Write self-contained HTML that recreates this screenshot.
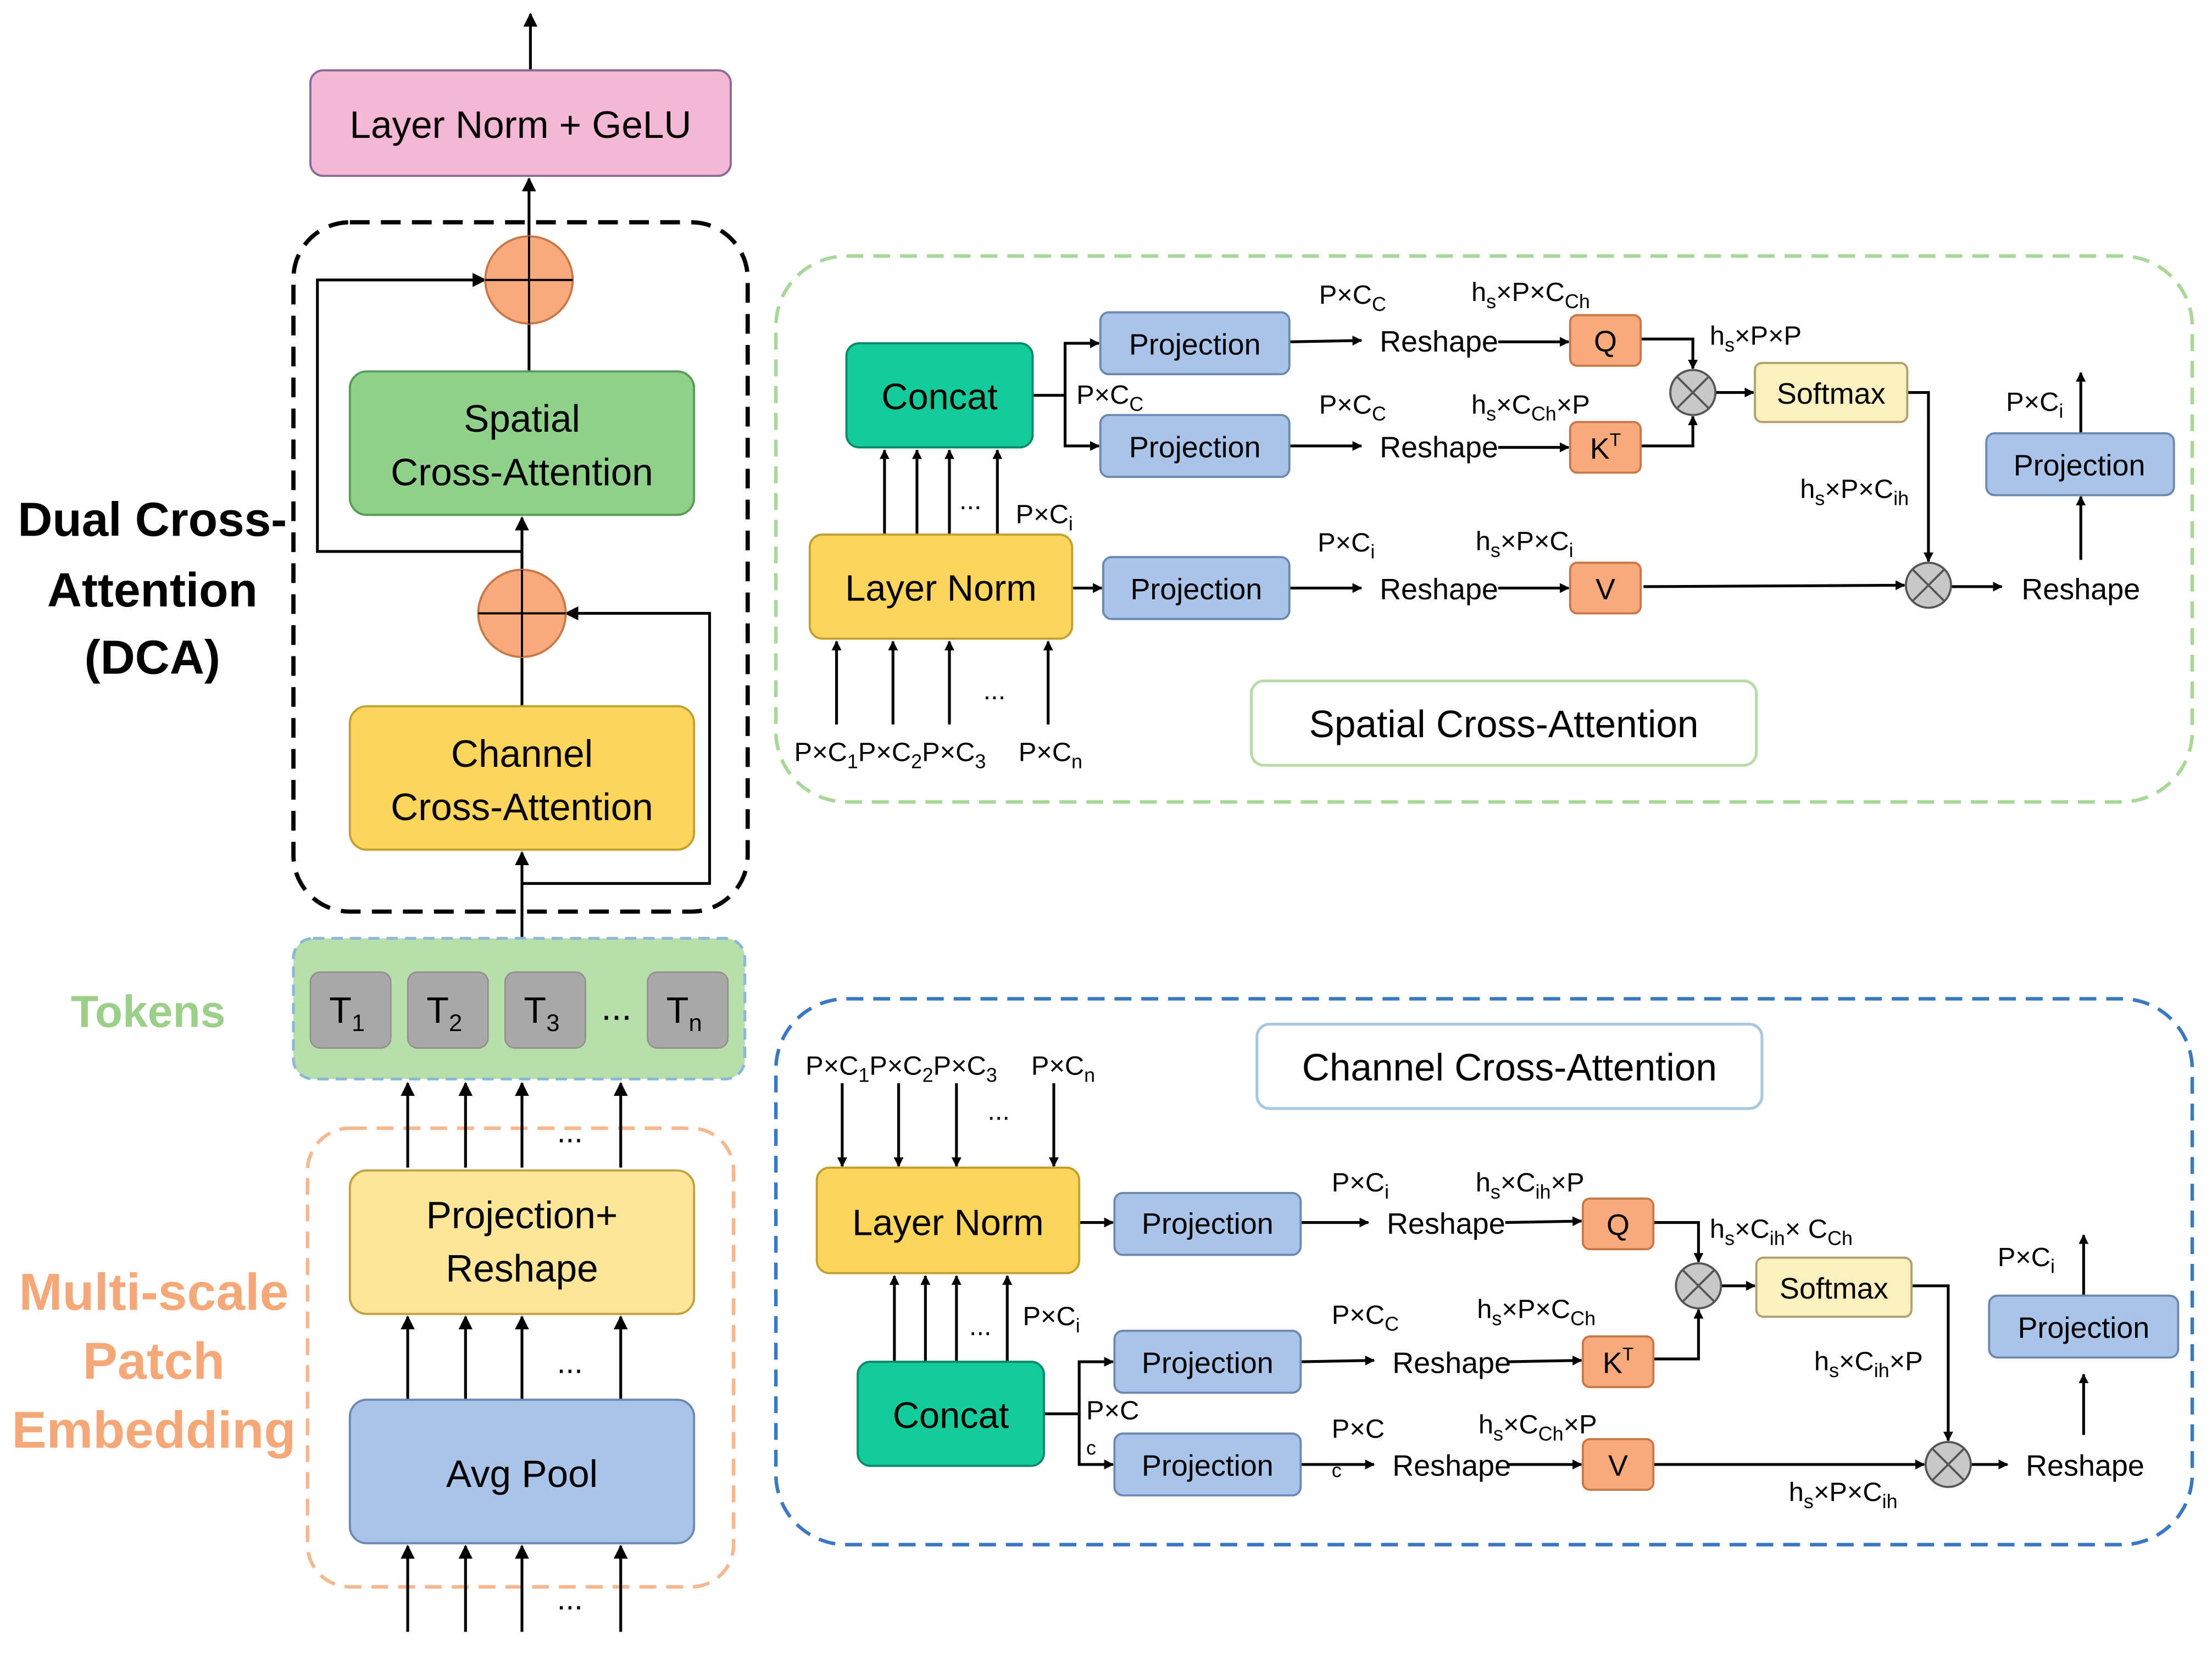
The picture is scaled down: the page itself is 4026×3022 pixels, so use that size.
<!DOCTYPE html>
<html><head><meta charset="utf-8"><style>
html,body{margin:0;padding:0;background:#fff;}
svg{display:block;}
text{font-family:"Liberation Sans","DejaVu Sans",sans-serif;}
</style></head><body>
<svg width="4026" height="3022" viewBox="0 0 1568 1180" preserveAspectRatio="none" xmlns="http://www.w3.org/2000/svg">
<defs>
<marker id="a" viewBox="0 0 10 10" refX="9" refY="5" markerWidth="7" markerHeight="7" orient="auto-start-reverse" markerUnits="userSpaceOnUse"><path d="M0,0 L10,5 L0,10 z" fill="#000"/></marker>
<marker id="b" viewBox="0 0 10 10" refX="9" refY="5" markerWidth="10" markerHeight="10" orient="auto" markerUnits="userSpaceOnUse"><path d="M0,0 L10,5 L0,10 z" fill="#000"/></marker>
</defs>
<g stroke="#000" stroke-width="2" fill="none">
<line x1="376" y1="50" x2="376" y2="10" marker-end="url(#b)"/>
<rect x="208" y="158" width="322" height="490" rx="40" stroke-width="3" stroke-dasharray="14,8"/>
<rect x="218" y="802" width="302" height="326" rx="30" stroke="#f5b890" stroke-width="2.5" stroke-dasharray="12,7"/>
<line x1="375" y1="168" x2="375" y2="127" marker-end="url(#b)"/>
<line x1="375" y1="264" x2="375" y2="230"/>
<polyline points="370,392 225,392 225,199 344,199" marker-end="url(#b)"/>
<line x1="370" y1="405" x2="370" y2="368" marker-end="url(#b)"/>
<line x1="370" y1="502" x2="370" y2="467"/>
<polyline points="370,628 503,628 503,436 401,436" marker-end="url(#b)"/>
<line x1="370" y1="668" x2="370" y2="606" marker-end="url(#b)"/>
<line x1="289" y1="830" x2="289" y2="770" marker-end="url(#b)"/>
<line x1="330" y1="830" x2="330" y2="770" marker-end="url(#b)"/>
<line x1="370" y1="830" x2="370" y2="770" marker-end="url(#b)"/>
<line x1="440" y1="830" x2="440" y2="770" marker-end="url(#b)"/>
<line x1="289" y1="995" x2="289" y2="936" marker-end="url(#b)"/>
<line x1="330" y1="995" x2="330" y2="936" marker-end="url(#b)"/>
<line x1="370" y1="995" x2="370" y2="936" marker-end="url(#b)"/>
<line x1="440" y1="995" x2="440" y2="936" marker-end="url(#b)"/>
<line x1="289" y1="1160" x2="289" y2="1099" marker-end="url(#b)"/>
<line x1="330" y1="1160" x2="330" y2="1099" marker-end="url(#b)"/>
<line x1="370" y1="1160" x2="370" y2="1099" marker-end="url(#b)"/>
<line x1="440" y1="1160" x2="440" y2="1099" marker-end="url(#b)"/>
</g>
<rect x="220" y="50" width="298" height="75" rx="9" fill="#f4b8d4" stroke="#8a6a9a" stroke-width="1.5"/>
<text x="369" y="98" font-size="27" text-anchor="middle">Layer Norm + GeLU</text>
<circle cx="375" cy="199" r="31" fill="#f7aa7a" stroke="#c87848" stroke-width="1.5"/>
<path d="M344,199 H406 M375,168 V230" stroke="#000" stroke-width="1.5"/>
<rect x="248" y="264" width="244" height="102" rx="12" fill="#8fd18a" stroke="#5a9a58" stroke-width="1.5"/>
<text x="370" y="307" font-size="27" text-anchor="middle">Spatial</text>
<text x="370" y="345" font-size="27" text-anchor="middle">Cross-Attention</text>
<circle cx="370" cy="436" r="31" fill="#f7aa7a" stroke="#c87848" stroke-width="1.5"/>
<path d="M339,436 H401 M370,405 V467" stroke="#000" stroke-width="1.5"/>
<rect x="248" y="502" width="244" height="102" rx="12" fill="#fdd55a" stroke="#c0a030" stroke-width="1.5"/>
<text x="370" y="545" font-size="27" text-anchor="middle">Channel</text>
<text x="370" y="583" font-size="27" text-anchor="middle">Cross-Attention</text>
<rect x="208" y="667" width="320" height="100" rx="14" fill="#b8dfaa" stroke="#8ab8d8" stroke-width="2" stroke-dasharray="8,5"/>
<g fill="#a8a8a8" stroke="#909090">
<rect x="220" y="691" width="57" height="54" rx="7"/><rect x="289" y="691" width="57" height="54" rx="7"/><rect x="358" y="691" width="57" height="54" rx="7"/><rect x="459" y="691" width="57" height="54" rx="7"/>
</g>
<g font-size="26" text-anchor="middle">
<text x="246" y="727">T<tspan font-size="17" dy="6">1</tspan></text>
<text x="315" y="727">T<tspan font-size="17" dy="6">2</tspan></text>
<text x="384" y="727">T<tspan font-size="17" dy="6">3</tspan></text>
<text x="485" y="727">T<tspan font-size="17" dy="6">n</tspan></text>
<text x="437" y="725">...</text>
</g>
<rect x="248" y="832" width="244" height="102" rx="12" fill="#fde69a" stroke="#c0a040" stroke-width="1.5"/>
<text x="370" y="873" font-size="27" text-anchor="middle">Projection+</text>
<text x="370" y="911" font-size="27" text-anchor="middle">Reshape</text>
<rect x="248" y="995" width="244" height="102" rx="12" fill="#a9c4e8" stroke="#6a88b0" stroke-width="1.5"/>
<text x="370" y="1057" font-size="27" text-anchor="middle">Avg Pool</text>
<g font-size="22" text-anchor="middle"><text x="404" y="812">...</text><text x="404" y="976">...</text><text x="404" y="1144">...</text></g>
<g font-weight="bold" text-anchor="middle">
<text x="108" y="381" font-size="34">Dual Cross-</text>
<text x="108" y="431" font-size="34">Attention</text>
<text x="108" y="479" font-size="34">(DCA)</text>
<text x="105" y="730" font-size="32" fill="#9ccf8a">Tokens</text>
<text x="109" y="931" font-size="37" fill="#f5a878">Multi-scale</text>
<text x="109" y="980" font-size="37" fill="#f5a878">Patch</text>
<text x="109" y="1029" font-size="37" fill="#f5a878">Embedding</text>
</g>

<rect x="550" y="182" width="1004" height="388" rx="50" fill="none" stroke="#a8d898" stroke-width="2.5" stroke-dasharray="12,7"/>
<g stroke="#000" stroke-width="2" fill="none">
<line x1="627" y1="380" x2="627" y2="320" marker-end="url(#a)"/>
<line x1="650" y1="380" x2="650" y2="320" marker-end="url(#a)"/>
<line x1="673" y1="380" x2="673" y2="320" marker-end="url(#a)"/>
<line x1="707" y1="380" x2="707" y2="320" marker-end="url(#a)"/>
<line x1="593" y1="515" x2="593" y2="456" marker-end="url(#a)"/>
<line x1="633" y1="515" x2="633" y2="456" marker-end="url(#a)"/>
<line x1="673" y1="515" x2="673" y2="456" marker-end="url(#a)"/>
<line x1="743" y1="515" x2="743" y2="456" marker-end="url(#a)"/>
<polyline points="732,281 755,281 755,244 779,244" marker-end="url(#a)"/>
<polyline points="755,281 755,317 779,317" marker-end="url(#a)"/>
<line x1="760" y1="418" x2="781" y2="418" marker-end="url(#a)"/>
<line x1="914" y1="243" x2="965" y2="242" marker-end="url(#a)"/>
<line x1="914" y1="317" x2="965" y2="317" marker-end="url(#a)"/>
<line x1="914" y1="418" x2="965" y2="418" marker-end="url(#a)"/>
<line x1="1062" y1="243" x2="1112" y2="243" marker-end="url(#a)"/>
<line x1="1062" y1="318" x2="1112" y2="318" marker-end="url(#a)"/>
<line x1="1062" y1="418" x2="1112" y2="418" marker-end="url(#a)"/>
<polyline points="1163,241 1200,241 1200,262" marker-end="url(#a)"/>
<polyline points="1163,317 1200,317 1200,296" marker-end="url(#a)"/>
<line x1="1216" y1="279" x2="1243" y2="279" marker-end="url(#a)"/>
<polyline points="1352,279 1367,279 1367,399" marker-end="url(#a)"/>
<line x1="1165" y1="417" x2="1350" y2="416" marker-end="url(#a)"/>
<line x1="1383" y1="417" x2="1419" y2="417" marker-end="url(#a)"/>
<line x1="1475" y1="398" x2="1475" y2="353" marker-end="url(#a)"/>
<line x1="1475" y1="308" x2="1475" y2="265" marker-end="url(#a)"/>
</g>
<rect x="600" y="244" width="132" height="74" rx="9" fill="#14cc9a" stroke="#0a8a68" stroke-width="1.5"/>
<text x="666" y="291" font-size="26" text-anchor="middle">Concat</text>
<rect x="574" y="380" width="186" height="74" rx="9" fill="#fdd55a" stroke="#c0a030" stroke-width="1.5"/>
<text x="667" y="427" font-size="26" text-anchor="middle">Layer Norm</text>
<g fill="#a9c4e8" stroke="#6a88b0" stroke-width="1.5">
<rect x="780" y="222" width="134" height="44" rx="6"/><rect x="780" y="295" width="134" height="44" rx="6"/><rect x="782" y="396" width="132" height="44" rx="6"/><rect x="1408" y="308" width="133" height="44" rx="6"/>
</g>
<g fill="#f7aa7a" stroke="#c87848" stroke-width="1.5">
<rect x="1113" y="224" width="50" height="36" rx="5"/><rect x="1113" y="300" width="50" height="36" rx="5"/><rect x="1113" y="400" width="50" height="36" rx="5"/>
</g>
<rect x="1244" y="258" width="108" height="42" rx="5" fill="#fdf0c0" stroke="#b0a070" stroke-width="1.5"/>
<g fill="#c8c8c8" stroke="#555" stroke-width="1.5">
<circle cx="1200" cy="279" r="16"/><circle cx="1367" cy="416" r="16"/>
</g>
<path d="M1189,268 L1211,290 M1211,268 L1189,290 M1356,405 L1378,427 M1378,405 L1356,427" stroke="#555" stroke-width="1.5"/>
<g font-size="21" text-anchor="middle">
<text x="847" y="252">Projection</text><text x="847" y="325">Projection</text><text x="848" y="426">Projection</text><text x="1474" y="338">Projection</text>
<text x="1138" y="250">Q</text><text x="1138" y="326">K<tspan font-size="13" dy="-9">T</tspan></text><text x="1138" y="426">V</text>
<text x="1298" y="287">Softmax</text>
</g>
<g font-size="21">
<text x="978" y="250">Reshape</text><text x="978" y="325">Reshape</text><text x="978" y="426">Reshape</text><text x="1433" y="426">Reshape</text>
</g>
<g font-size="19">
<text x="935" y="216">P×C<tspan font-size="14" dy="5">C</tspan></text>
<text x="1043" y="214">h<tspan font-size="14" dy="5">s</tspan><tspan dy="-5">×P×C</tspan><tspan font-size="14" dy="5">Ch</tspan></text>
<text x="935" y="294">P×C<tspan font-size="14" dy="5">C</tspan></text>
<text x="1043" y="294">h<tspan font-size="14" dy="5">s</tspan><tspan dy="-5">×C</tspan><tspan font-size="14" dy="5">Ch</tspan><tspan dy="-5">×P</tspan></text>
<text x="934" y="392">P×C<tspan font-size="14" dy="5">i</tspan></text>
<text x="1046" y="391">h<tspan font-size="14" dy="5">s</tspan><tspan dy="-5">×P×C</tspan><tspan font-size="14" dy="5">i</tspan></text>
<text x="763" y="287">P×C<tspan font-size="14" dy="5">C</tspan></text>
<text x="720" y="372">P×C<tspan font-size="14" dy="5">i</tspan></text>
<text x="1212" y="245">h<tspan font-size="14" dy="5">s</tspan><tspan dy="-5">×P×P</tspan></text>
<text x="1276" y="354">h<tspan font-size="14" dy="5">s</tspan><tspan dy="-5">×P×C</tspan><tspan font-size="14" dy="5">ih</tspan></text>
<text x="1422" y="292">P×C<tspan font-size="14" dy="5">i</tspan></text>
<text x="563" y="541">P×C<tspan font-size="14" dy="5">1</tspan><tspan dy="-5">P×C</tspan><tspan font-size="14" dy="5">2</tspan><tspan dy="-5">P×C</tspan><tspan font-size="14" dy="5">3</tspan></text>
<text x="722" y="541">P×C<tspan font-size="14" dy="5">n</tspan></text>
<text x="680" y="362">...</text><text x="697" y="497">...</text>
</g>
<rect x="887" y="484" width="358" height="60" rx="9" fill="#fff" stroke="#b8dca8" stroke-width="2"/>
<text x="1066" y="524" font-size="27" text-anchor="middle">Spatial Cross-Attention</text>

<rect x="550" y="710" width="1004" height="388" rx="50" fill="none" stroke="#3a78c0" stroke-width="2.5" stroke-dasharray="12,7"/>
<rect x="891" y="728" width="358" height="60" rx="9" fill="#fff" stroke="#a8c8e0" stroke-width="2"/>
<text x="1070" y="768" font-size="27" text-anchor="middle">Channel Cross-Attention</text>
<g stroke="#000" stroke-width="2" fill="none">
<line x1="597" y1="770" x2="597" y2="829" marker-end="url(#a)"/>
<line x1="637" y1="770" x2="637" y2="829" marker-end="url(#a)"/>
<line x1="678" y1="770" x2="678" y2="829" marker-end="url(#a)"/>
<line x1="747" y1="770" x2="747" y2="829" marker-end="url(#a)"/>
<line x1="634" y1="968" x2="634" y2="907" marker-end="url(#a)"/>
<line x1="656" y1="968" x2="656" y2="907" marker-end="url(#a)"/>
<line x1="678" y1="968" x2="678" y2="907" marker-end="url(#a)"/>
<line x1="714" y1="968" x2="714" y2="907" marker-end="url(#a)"/>
<line x1="765" y1="869" x2="789" y2="869" marker-end="url(#a)"/>
<polyline points="740,1005 765,1005 765,968 789,968" marker-end="url(#a)"/>
<polyline points="765,1005 765,1041 789,1041" marker-end="url(#a)"/>
<line x1="922" y1="869" x2="970" y2="869" marker-end="url(#a)"/>
<line x1="922" y1="968" x2="974" y2="967" marker-end="url(#a)"/>
<line x1="922" y1="1041" x2="974" y2="1041" marker-end="url(#a)"/>
<line x1="1067" y1="869" x2="1121" y2="868" marker-end="url(#a)"/>
<line x1="1069" y1="968" x2="1121" y2="967" marker-end="url(#a)"/>
<line x1="1069" y1="1041" x2="1121" y2="1041" marker-end="url(#a)"/>
<polyline points="1172,869 1204,869 1204,897" marker-end="url(#a)"/>
<polyline points="1172,966 1204,966 1204,931" marker-end="url(#a)"/>
<line x1="1220" y1="914" x2="1244" y2="914" marker-end="url(#a)"/>
<polyline points="1355,914 1381,914 1381,1024" marker-end="url(#a)"/>
<line x1="1172" y1="1041" x2="1364" y2="1041" marker-end="url(#a)"/>
<line x1="1397" y1="1041" x2="1423" y2="1041" marker-end="url(#a)"/>
<line x1="1477" y1="1020" x2="1477" y2="977" marker-end="url(#a)"/>
<line x1="1477" y1="921" x2="1477" y2="878" marker-end="url(#a)"/>
</g>
<rect x="579" y="830" width="186" height="75" rx="9" fill="#fdd55a" stroke="#c0a030" stroke-width="1.5"/>
<text x="672" y="878" font-size="26" text-anchor="middle">Layer Norm</text>
<rect x="608" y="968" width="132" height="74" rx="9" fill="#14cc9a" stroke="#0a8a68" stroke-width="1.5"/>
<text x="674" y="1015" font-size="26" text-anchor="middle">Concat</text>
<g fill="#a9c4e8" stroke="#6a88b0" stroke-width="1.5">
<rect x="790" y="848" width="132" height="44" rx="6"/><rect x="790" y="946" width="132" height="44" rx="6"/><rect x="790" y="1019" width="132" height="44" rx="6"/><rect x="1410" y="921" width="134" height="44" rx="6"/>
</g>
<g fill="#f7aa7a" stroke="#c87848" stroke-width="1.5">
<rect x="1122" y="852" width="50" height="36" rx="5"/><rect x="1122" y="950" width="50" height="36" rx="5"/><rect x="1122" y="1023" width="50" height="36" rx="5"/>
</g>
<rect x="1245" y="894" width="110" height="42" rx="5" fill="#fdf0c0" stroke="#b0a070" stroke-width="1.5"/>
<g fill="#c8c8c8" stroke="#555" stroke-width="1.5">
<circle cx="1204" cy="914" r="16"/><circle cx="1381" cy="1041" r="16"/>
</g>
<path d="M1193,903 L1215,925 M1215,903 L1193,925 M1370,1030 L1392,1052 M1392,1030 L1370,1052" stroke="#555" stroke-width="1.5"/>
<g font-size="21" text-anchor="middle">
<text x="856" y="877">Projection</text><text x="856" y="976">Projection</text><text x="856" y="1049">Projection</text><text x="1477" y="951">Projection</text>
<text x="1147" y="878">Q</text><text x="1147" y="976">K<tspan font-size="13" dy="-9">T</tspan></text><text x="1147" y="1049">V</text>
<text x="1300" y="923">Softmax</text>
</g>
<g font-size="21">
<text x="983" y="877">Reshape</text><text x="987" y="976">Reshape</text><text x="987" y="1049">Reshape</text><text x="1436" y="1049">Reshape</text>
</g>
<g font-size="19">
<text x="571" y="764">P×C<tspan font-size="14" dy="5">1</tspan><tspan dy="-5">P×C</tspan><tspan font-size="14" dy="5">2</tspan><tspan dy="-5">P×C</tspan><tspan font-size="14" dy="5">3</tspan></text>
<text x="731" y="764">P×C<tspan font-size="14" dy="5">n</tspan></text>
<text x="700" y="796">...</text><text x="687" y="949">...</text>
<text x="725" y="942">P×C<tspan font-size="14" dy="5">i</tspan></text>
<text x="944" y="847">P×C<tspan font-size="14" dy="5">i</tspan></text>
<text x="1046" y="847">h<tspan font-size="14" dy="5">s</tspan><tspan dy="-5">×C</tspan><tspan font-size="14" dy="5">ih</tspan><tspan dy="-5">×P</tspan></text>
<text x="1212" y="880">h<tspan font-size="14" dy="5">s</tspan><tspan dy="-5">×C</tspan><tspan font-size="14" dy="5">ih</tspan><tspan dy="-5">× C</tspan><tspan font-size="14" dy="5">Ch</tspan></text>
<text x="944" y="941">P×C<tspan font-size="14" dy="5">C</tspan></text>
<text x="1047" y="937">h<tspan font-size="14" dy="5">s</tspan><tspan dy="-5">×P×C</tspan><tspan font-size="14" dy="5">Ch</tspan></text>
<text x="770" y="1009">P×C</text><text x="770" y="1034" font-size="14">c</text>
<text x="944" y="1022">P×C</text><text x="944" y="1050" font-size="14">c</text>
<text x="1048" y="1019">h<tspan font-size="14" dy="5">s</tspan><tspan dy="-5">×C</tspan><tspan font-size="14" dy="5">Ch</tspan><tspan dy="-5">×P</tspan></text>
<text x="1286" y="974">h<tspan font-size="14" dy="5">s</tspan><tspan dy="-5">×C</tspan><tspan font-size="14" dy="5">ih</tspan><tspan dy="-5">×P</tspan></text>
<text x="1268" y="1067">h<tspan font-size="14" dy="5">s</tspan><tspan dy="-5">×P×C</tspan><tspan font-size="14" dy="5">ih</tspan></text>
<text x="1416" y="900">P×C<tspan font-size="14" dy="5">i</tspan></text>
</g>
</svg>
</body></html>
